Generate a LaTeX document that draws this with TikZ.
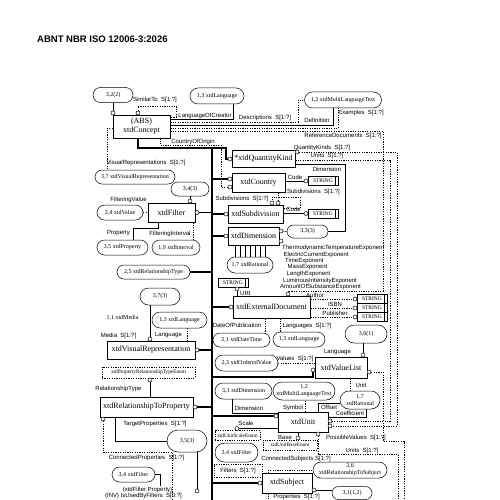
\documentclass[tikz,border=0pt]{standalone}
\usepackage{fontspec}
\setmainfont{Liberation Serif}
\newfontfamily\lsans{Liberation Sans}
\newcommand{\myring}[2]{\node[ringst] (#1) at (#2) {};}
\newcommand{\strnode}[2]{\node[strbox] (#1) at (#2) {STRING}; \draw[ln] ([xshift=-3pt]#1.north east) -- ([xshift=-3pt]#1.south east);}
\tikzset{
 bx/.style={draw, line width=0.6pt, fill=white, inner sep=0pt, align=center, font=\fontsize{8}{9}\selectfont},
 rf/.style={draw, line width=0.5pt, rounded corners=7pt, fill=white, inner sep=0pt, align=center, font=\fontsize{6}{7}\selectfont},
 lb/.style={inner sep=0pt, font=\lsans\fontsize{6}{7}\selectfont},
 ringst/.style={circle, draw, line width=0.5pt, fill=white, minimum size=4pt, inner sep=0pt},
 ln/.style={line width=0.5pt},
 opt/.style={line width=0.5pt, dash pattern=on 1.2pt off 1.2pt},
 thk/.style={line width=1.8pt},
 strbox/.style={draw, line width=0.5pt, fill=white, inner sep=0pt, minimum width=30pt, minimum height=9pt, font=\fontsize{5.5}{6}\selectfont},
 enumbox/.style={draw, opt, fill=white, inner sep=0pt, font=\fontsize{5.3}{6}\selectfont},
}
\begin{document}
\begin{tikzpicture}[x=1pt,y=-1pt]
\useasboundingbox (0,0) rectangle (500,500);
\fill[white] (0,0) rectangle (500,500);

\node[anchor=west, inner sep=0pt, font=\lsans\bfseries\fontsize{9.5}{11}\selectfont] (title) at (37,39) {ABNT NBR ISO 12006-3:2026};

% ---------- entity boxes
\node[bx, minimum width=57pt, minimum height=23pt] (concept) at (141.5,126.5) {(ABS)\\xtdConcept};
\node[bx, minimum width=63pt, minimum height=17pt] (qk) at (263.5,158.5) {*xtdQuantityKind};
\node[bx, minimum width=53pt, minimum height=19pt] (country) at (258.5,182.5) {xtdCountry};
\node[bx, minimum width=55pt, minimum height=18pt] (subdiv) at (255.5,214) {xtdSubdivision};
\node[bx, minimum width=51pt, minimum height=18pt] (dim) at (253.5,236) {xtdDimension};
\node[bx, minimum width=47pt, minimum height=19pt] (filter) at (171.5,212.5) {xtdFilter};
\node[bx, minimum width=77pt, minimum height=22pt] (extdoc) at (271.5,307) {xtdExternalDocument};
\node[bx, minimum width=88pt, minimum height=18pt] (visrep) at (151,350) {xtdVisualRepresentation};
\node[bx, minimum width=52pt, minimum height=21pt] (vlist) at (341,367.5) {xtdValueList};
\node[bx, minimum width=93pt, minimum height=20pt] (relprop) at (146.5,407) {xtdRelationshipToProperty};
\node[bx, minimum width=50pt, minimum height=20pt] (unit) at (303,422) {xtdUnit};
\node[bx, minimum width=50pt, minimum height=20pt] (subject) at (287,483) {xtdSubject};

% ---------- reference nodes
\node[rf, minimum width=40pt, minimum height=15pt, rounded corners=7.5pt] (ref32) at (113,95) {3,2(2)};
\node[rf, minimum width=54pt, minimum height=16pt, rounded corners=8pt] (lang1) at (217,96) {1,3 xtdLanguage};
\node[rf, minimum width=77pt, minimum height=16pt, rounded corners=8pt] (mlt1) at (343,100) {1,2 xtdMultiLanguageText};
\node[rf, minimum width=80pt, minimum height=14pt] (ref37a) at (135,177) {3,7 xtdVisualRepresentation};
\node[rf, minimum width=38pt, minimum height=14pt] (ref343) at (190,189) {3,4(3)};
\node[rf, minimum width=46pt, minimum height=15pt, rounded corners=7.5pt] (refVal) at (120,212.5) {2,4 xtdValue};
\node[rf, minimum width=51pt, minimum height=15pt, rounded corners=7.5pt] (refProp) at (122.5,247.5) {3,5 xtdProperty};
\node[rf, minimum width=48pt, minimum height=15pt, rounded corners=7.5pt] (refInt) at (176,247.5) {1,9 xtdInterval};
\node[rf, minimum width=73pt, minimum height=14pt] (refRelT) at (153.5,272) {2,5 xtdRelationshipType};
\node[rf, minimum width=41pt, minimum height=13pt, rounded corners=6.5pt] (ref333) at (307.5,231.5) {3,3(3)};
\node[rf, minimum width=46pt, minimum height=16pt, rounded corners=8pt] (refRat1) at (250,265) {1,7 xtdRational};
\node[rf, minimum width=40pt, minimum height=17pt, rounded corners=8.5pt] (ref373) at (160,296.5) {3,7(3)};
\node[inner sep=0pt, font=\fontsize{6}{7}\selectfont] (media) at (122.5,318) {1,1 xtdMedia};
\node[rf, minimum width=55pt, minimum height=16pt, rounded corners=8pt] (refLang2) at (179.5,320) {1,3 xtdLanguage};
\node[rf, minimum width=57pt, minimum height=14pt] (refDT) at (241.5,340) {2,1 xtdDateTime};
\node[rf, minimum width=52pt, minimum height=15pt, rounded corners=7.5pt] (refLang3) at (299,339.5) {1,3 xtdLanguage};
\node[rf, minimum width=42pt, minimum height=18pt, rounded corners=9pt] (ref361) at (366,334) {3,6(1)};
\node[rf, minimum width=63pt, minimum height=16pt, rounded corners=8pt] (refOV) at (246.5,363) {2,3 xtdOrderedValue};
\node[rf, minimum width=57pt, minimum height=16pt, rounded corners=8pt] (refDim2) at (243.5,391) {3,3 xtdDimension};
\node[rf, minimum width=62pt, minimum height=18pt, rounded corners=9pt] (refMLT2) at (304,391) {1,2\\xtdMultiLanguageText};
\node[rf, minimum width=40pt, minimum height=18pt, rounded corners=9pt] (refRat2) at (360,400) {1,7\\xtdRational};
\node[rf, minimum width=40pt, minimum height=22pt, rounded corners=11pt] (ref353) at (187,441) {3,5(3)};
\node[rf, minimum width=43pt, minimum height=19pt, rounded corners=9.5pt] (refFil2) at (236.5,452.5) {3,4 xtdFilter};
\node[rf, minimum width=43pt, minimum height=15pt, rounded corners=7.5pt] (refFil1) at (133.5,474.5) {3,4 xtdFilter};
\node[rf, minimum width=74pt, minimum height=16pt, rounded corners=8pt] (refRS) at (350,470) {2,6\\xtdRelationshipToSubject};
\node[rf, minimum width=40pt, minimum height=13pt, rounded corners=6.5pt] (ref312) at (352,493) {3,1(1,2)};

% ---------- enumerations and simple types
\node[enumbox, minimum width=93pt, minimum height=11pt] (enumRel) at (148.5,372.5) {xtdPropertyRelationshipTypeEnum};
\node[enumbox, minimum width=45pt, minimum height=10pt] (enumScale) at (237.5,435.5) {xtdUnitScaleEnum};
\node[enumbox, minimum width=54pt, minimum height=10pt] (enumBase) at (290,445) {xtdUnitBaseEnum};
\strnode{strC}{323,181}
\strnode{strS}{323,213.5}
\strnode{strU}{233,282.5}
\strnode{strA}{372,299}
\strnode{strI}{372,308}
\strnode{strP}{372,317}

% ---------- labels
\node[lb] (lSim) at (155,100) {SimilarTo\ \ S[1:?]};
\node[lb] (lLoc) at (205,115.5) {LanguageOfCreator};
\node[lb] (lDesc) at (265,118) {Descriptions\ \ S[1:?]};
\node[lb] (lDef) at (317,120.5) {Definition};
\node[lb] (lEx) at (361,113) {Examples\ \ S[1:?]};
\node[lb] (lRef) at (343,135.5) {ReferenceDocuments\ \ S[1:?]};
\node[lb] (lQks) at (322,147.5) {QuantityKinds\ \ S[1:?]};
\node[lb] (lUnits) at (327,156) {Units\ \ S[1:?]};
\node[lb] (lDim) at (327,169) {Dimension};
\node[lb] (lCoo) at (193,141.5) {CountryOfOrigin};
\node[lb] (lVis) at (146,163) {VisualRepresentations\ \ S[1:?]};
\node[lb] (lCode1) at (295,177.5) {Code};
\node[lb] (lSub1) at (313.5,192) {Subdivisions\ \ S[1:?]};
\node[lb] (lSub2) at (242,198.5) {Subdivisions\ \ S[1:?]};
\node[lb] (lCode2) at (293.5,209.5) {Code};
\node[lb] (lFV) at (128.5,200) {FilteringValue};
\node[lb] (lProp) at (118.5,233.5) {Property};
\node[lb] (lFI) at (170,233.5) {FilteringInterval};
\node[lb, anchor=west] (e1) at (282,248) {ThermodynamicTemperatureExponent};
\node[lb, anchor=west] (e2) at (283.5,254.5) {ElectricCurrentExponent};
\node[lb, anchor=west] (e3) at (285,261) {TimeExponent};
\node[lb, anchor=west] (e4) at (287.5,267.5) {MassExponent};
\node[lb, anchor=west] (e5) at (286.5,274) {LengthExponent};
\node[lb, anchor=west] (e6) at (283,280.5) {LuminousIntensityExponent};
\node[lb, anchor=west] (e7) at (280,287) {AmountOfSubstanceExponent};
\node[lb, anchor=west] (lUri) at (240,293.5) {URI};
\node[lb] (lAuth) at (315,295.5) {Author};
\node[lb] (lIsbn) at (335,304.5) {ISBN};
\node[lb] (lPub) at (335,313.5) {Publisher};
\node[lb] (lDop) at (237,325.5) {DateOfPublication};
\node[lb] (lLangs) at (307,325.5) {Languages\ \ S[1:?]};
\node[lb] (lMedia) at (118.5,335.5) {Media\ \ S[1:?]};
\node[lb] (lLang2) at (168.5,335.5) {Language};
\node[lb] (lLang3) at (337.5,352) {Language};
\node[lb] (lVals) at (295,358.5) {Values\ \ S[1:?]};
\node[lb] (lRelT) at (118.5,388.5) {RelationshipType};
\node[lb] (lUnit) at (361,385) {Unit};
\node[lb] (lDim2) at (249,408.5) {Dimension};
\node[lb] (lSym) at (293,407.5) {Symbol};
\node[lb] (lOff) at (329,407.5) {Offset};
\node[lb] (lCoef) at (350,413) {Coefficient};
\node[lb] (lScale) at (246,423.5) {Scale};
\node[lb] (lBase) at (285,437.5) {Base};
\node[lb] (lPV) at (356,437.5) {PossibleValues\ \ S[1:?]};
\node[lb] (lTP) at (155,423.5) {TargetProperties\ \ S[1:?]};
\node[lb] (lCP) at (146.5,457.5) {ConnectedProperties\ \ S[1:?]};
\node[lb] (lUnits2) at (362,450.5) {Units\ \ S[1:?]};
\node[lb] (lCS) at (296,458.5) {ConnectedSubjects\ S[1:?]};
\node[lb, draw, opt, minimum width=48pt, minimum height=13pt] (lFil) at (238,470.5) {Filters\ \ S[1:?]};
\node[lb] (lFP) at (147.5,489.5) {(xtdFilter.Property)};
\node[lb] (lInv) at (143.5,495.5) {\{INV\} IsUsedByFilters\ \ S[0:?]};
\node[lb] (lProps) at (296.5,497) {Properties\ \ S[1:?]};

% ---------- rings
\myring{r1}{113,113}
\myring{r2}{138,113}
\myring{rqk1}{230,159}
\myring{rqk2}{297,152}
\myring{rc1}{230,179}
\myring{rc2}{230,187}
\myring{rcode1}{306,181}
\myring{rs1}{272,203}
\myring{rs2}{278,203}
\myring{rcode2}{306,213.5}
\myring{rsub}{226,214}
\myring{rdim}{226,236}
\myring{rdA}{281,231}
\myring{rdE}{281,241}
\myring{rfilR}{197,212.5}
\myring{rfilT}{190,201}
\myring{ruri}{237,289}
\myring{rext}{231,307}
\myring{rextT}{288,294}
\myring{ra}{355,299}
\myring{ri}{355,308}
\myring{rp}{355,317}
\myring{rvis}{197,350}
\myring{rvisT}{150,339}
\myring{rvlT}{363,355}
\myring{rvlL}{313,370}
\myring{rvlR}{369,372}
\myring{renum}{150,380}
\myring{rrel}{195,407}
\myring{rrelB}{103,419}
\myring{runitL}{276,416}
\myring{runitR1}{330,421}
\myring{runitR2}{330,426}
\myring{runitB}{318,434}
\myring{rbase}{298,438}
\myring{rscale}{237,428.5}
\myring{rsubjL}{260,483}
\myring{rsubjR}{314,490}
\myring{rbot}{197,491}

% ---------- connectors: xtdConcept
\draw[ln] (ref32.south) -- (r1.north);
\draw[opt] (r2.north) -- (138,106) -- (176,106) -- (176,117) -- (concept.east |- 0,117);
\draw[ln] (concept.east |- 0,119) -- (233,119) -- (lang1.south -| 233,0);
\draw[opt] (concept.east |- 0,122) -- (298,122) -- (298,100) -- (mlt1.west);
\draw[ln] (concept.east |- 0,125) -- (333,125) -- (mlt1.south -| 333,0);
\draw[opt] (concept.east |- 0,128) -- (338,128) -- (mlt1.south -| 338,0);
\draw[opt] (concept.east |- 0,131) -- (383,131) -- (383,291) -- (288,291) -- (rextT.north);
\draw[opt] (concept.south -| 160,0) -- (160,145) -- (221,145) -- (221,187) -- (rc2.west);
\draw[opt] (concept.west |- 0,128) -- (107,128) -- (ref37a.north -| 107,0);

% inheritance trunk
\draw[thk] (concept.south -| 138,0) -- (138,148) -- (226,148) -- (226,159) -- (rqk1.west);
\draw[thk] (212,148) -- (212,500);
\draw[thk] (212,179) -- (rc1.west);
\draw[thk] (rfilR.east) -- (212,212.5);
\draw[thk] (212,214) -- (rsub.west);
\draw[thk] (212,236) -- (rdim.west);
\draw[thk] (refRelT.east) -- (212,272);
\draw[thk] (212,307) -- (rext.west);
\draw[thk] (rvis.east) -- (212,350);
\draw[thk] (212,377) -- (313,377) -- (rvlL.south);
\draw[thk] (rrel.east) -- (212,407);
\draw[thk] (212,416) -- (runitL.west);
\draw[thk] (212,483) -- (rsubjL.west);

% quantity kind
\draw[ln] (qk.east |- 0,164) -- (345,164) -- (345,231.5) -- (ref333.east);
\draw[opt] (qk.east |- 0,160) -- (390,160) -- (390,421) -- (runitR1.east);
\draw[opt] (rqk2.east) -- (397,152) -- (397,426) -- (runitR2.east);

% country, subdivision, dimension
\draw[ln] (country.east |- rcode1) -- (rcode1.west);
\draw[opt] (country.south -| rs2) -- (rs2.north);
\draw[opt] (subdiv.east |- 0,208) -- (300,208) -- (300,197) -- (272,197) -- (rs1.north);
\draw[ln] (subdiv.east |- rcode2) -- (rcode2.west);
\draw[ln] (rdA.east) -- (ref333.west);
\foreach \xx in {235,240,...,265} \draw[ln] (dim.south -| \xx,0) -- (refRat1.north -| \xx,0);

% filter
\draw[ln] (ref343.south -| rfilT) -- (rfilT.north);
\draw[opt] (refVal.east) -- (filter.west |- refVal.east);
\draw[ln] (filter.south -| 158,0) -- (158,228) -- (133,228) -- (refProp.north -| 133,0);
\draw[opt] (filter.south -| 193,0) -- (refInt.north -| 193,0);

% external document
\draw[ln] (ruri.south) -- (extdoc.north -| ruri);
\draw[opt] (extdoc.east |- ra) -- (ra.west);
\draw[opt] (extdoc.east |- ri) -- (ri.west);
\draw[opt] (extdoc.east |- rp) -- (rp.west);
\draw[opt] (extdoc.south -| 265,0) -- (refDT.north -| 265,0);
\draw[opt] (extdoc.south -| 280,0) -- (refLang3.north -| 280,0);

% visual representation
\draw[ln] (ref373.south -| rvisT) -- (rvisT.north);
\draw[opt] (refLang2.south -| 187,0) -- (visrep.north -| 187,0);

% value list
\draw[opt] (refOV.east) -- (refOV.east -| vlist.west);
\draw[ln] (ref361.south -| rvlT) -- (rvlT.north);
\draw[opt] (vlist.south -| 350,0) -- (refRat2.north -| 350,0);
\draw[opt] (rvlR.east) -- (383,372) -- (383,441) -- (404,441) -- (404,500);

% relationship to property
\draw[ln] (renum.south) -- (relprop.north -| renum);
\draw[ln] (relprop.south -| 115,0) -- (115,441) -- (ref353.west);
\draw[opt] (rrelB.south) -- (103,452) -- (172,452) -- (172,500);

% unit
\draw[ln] (unit.west |- 0,413) -- (232,413) -- (refDim2.south -| 232,0);
\draw[opt] (unit.north -| 305,0) -- (refMLT2.south -| 305,0);
\draw[ln] (unit.north -| 318,0) -- (318,403) -- (refRat2.west |- 0,403);
\draw[ln] (unit.east |- 0,417) -- (366,417) -- (refRat2.south -| 366,0);
\draw[ln] (unit.west |- rscale) -- (rscale.east);
\draw[ln] (unit.south -| rbase) -- (rbase.north);
\draw[opt] (runitB.south) -- (318,454) -- (398,454) -- (398,500);

% bottom
\draw[ln] (ref353.south -| rbot) -- (rbot.north);
\draw[ln] (refFil1.east) -- (160,474.5) -- (160,486);
\draw[opt] (subject.north -| 268,0) |- (refRS.west);
\draw[ln] (rsubjR.east) -- (ref312.west |- rsubjR.east);
\draw[opt] (subject.south -| 268,0) -- (268,500);
\end{tikzpicture}
\end{document}
